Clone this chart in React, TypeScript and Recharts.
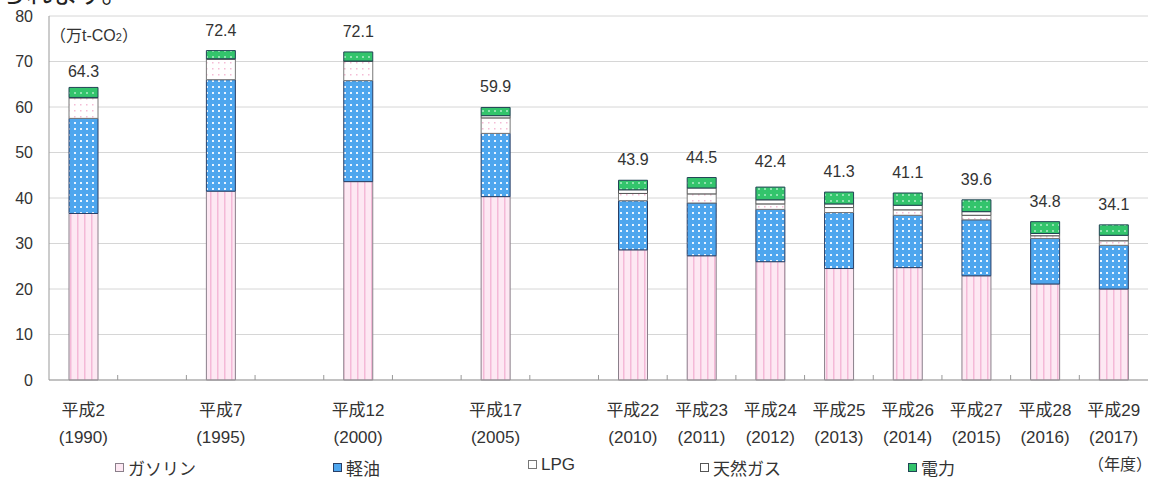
import { BarChart, Bar, XAxis, YAxis, CartesianGrid, LabelList } from 'recharts';

// 16 slots on the axis; the blank ones keep the 5-year gaps
const slots = ['1990', 'gap1', '1995', 'gap2', '2000', 'gap3', '2005', 'gap4',
  '2010', '2011', '2012', '2013', '2014', '2015', '2016', '2017'];

const years = ['1990', '1995', '2000', '2005', '2010', '2011', '2012', '2013', '2014', '2015', '2016', '2017'];
const eraLabels = ['平成2', '平成7', '平成12', '平成17', '平成22', '平成23', '平成24', '平成25', '平成26', '平成27', '平成28', '平成29'];

const gasoline = [36.6, 41.5, 43.6, 40.3, 28.6, 27.3, 26.0, 24.5, 24.7, 22.9, 21.1, 20.0];
const diesel = [20.9, 24.5, 22.2, 13.9, 10.8, 11.6, 11.5, 12.3, 11.5, 12.3, 10.0, 9.6];
const lpg = [4.5, 4.5, 4.2, 3.4, 1.6, 2.0, 1.2, 1.1, 1.2, 1.0, 0.6, 1.0];
const naturalGas = [0.1, 0.1, 0.1, 0.5, 0.8, 1.3, 0.9, 0.8, 1.0, 0.8, 0.5, 1.2];
const electricity = [2.2, 1.8, 2.0, 1.8, 2.1, 2.3, 2.8, 2.6, 2.7, 2.6, 2.6, 2.3];
const totals = [64.3, 72.4, 72.1, 59.9, 43.9, 44.5, 42.4, 41.3, 41.1, 39.6, 34.8, 34.1];

const yTicks = [0, 10, 20, 30, 40, 50, 60, 70, 80];

const rows = slots.map((slot) => {
  const i = years.indexOf(slot);
  if (i < 0) return { slot };
  return {
    slot,
    gasoline: gasoline[i],
    diesel: diesel[i],
    lpg: lpg[i],
    naturalGas: naturalGas[i],
    electricity: electricity[i],
    total: totals[i],
  };
});

const FONT = '"Liberation Sans", "Noto Sans CJK JP", sans-serif';
const TEXT = '#333';
const PLOT_LEFT = 49;
const PLOT_RIGHT = 1148;
const BAND = (PLOT_RIGHT - PLOT_LEFT) / slots.length;

const legendItems = [
  { name: 'ガソリン', fill: '#fde8f3', stroke: '#8a7f8a', left: 115 },
  { name: '軽油', fill: '#4ea6ee', stroke: '#2a3f66', left: 333 },
  { name: 'LPG', fill: '#fff', stroke: '#777', left: 528 },
  { name: '天然ガス', fill: '#fff', stroke: '#555', left: 700 },
  { name: '電力', fill: '#33c46c', stroke: '#245', left: 908 },
];

const SlotTick = (props: any) => {
  const { x, y, payload } = props;
  const i = years.indexOf(payload.value);
  const bx = x + BAND / 2;
  return (
    <g>
      {bx < PLOT_RIGHT - 1 && <line x1={bx} x2={bx} y1={y - 5} y2={y} stroke="#999" />}
      {i >= 0 && (
        <text textAnchor="middle" fill={TEXT} fontSize={17} fontFamily={FONT}>
          <tspan x={x} y={y + 36}>{eraLabels[i]}</tspan>
          <tspan x={x} y={y + 63}>({years[i]})</tspan>
        </text>
      )}
    </g>
  );
};

const TotalLabel = (props: any) => {
  const { x, y, width, value, index } = props;
  if (value == null) return null;
  const lift = index === 0 ? 10 : index === 6 ? 20 : 15;
  return (
    <text x={x + width / 2} y={y - lift} textAnchor="middle" fill={TEXT} fontSize={16} fontFamily={FONT}>
      {value}
    </text>
  );
};

const Patterns = () => (
  <defs>
    <pattern id="pGas" width="7" height="7" patternUnits="userSpaceOnUse">
      <rect width="7" height="7" fill="#fde8f3" />
      <rect x="0" width="1.5" height="7" fill="#f4b9d7" />
    </pattern>
    <pattern id="pDiesel" width="6" height="6" patternUnits="userSpaceOnUse">
      <rect width="6" height="6" fill="#4ea6ee" />
      <rect x="2" y="2" width="2" height="2" fill="#e8f4ff" />
    </pattern>
    <pattern id="pLpg" width="6" height="6" patternUnits="userSpaceOnUse">
      <rect width="6" height="6" fill="#fff" />
      <rect x="2" y="2" width="1.5" height="1.5" fill="#f5bcd6" />
    </pattern>
    <pattern id="pElec" width="6" height="6" patternUnits="userSpaceOnUse">
      <rect width="6" height="6" fill="#33c46c" />
      <rect x="2" y="2" width="2" height="2" fill="#8fe3b0" />
    </pattern>
  </defs>
);

export default function App() {
  return (
    <div style={{ position: 'absolute', left: 0, top: 0, width: 1158, height: 484, overflow: 'hidden', background: '#fff', fontFamily: FONT }}>
      <div style={{ position: 'absolute', left: 0, top: -21, fontSize: 26, lineHeight: '26px', fontFamily: '"Noto Sans CJK JP", sans-serif', color: '#222' }}>
        られます。
      </div>
      <BarChart
        width={1158}
        height={484}
        data={rows}
        margin={{ top: 16, right: 10, left: 0, bottom: 44 }}
        barSize={29}
      >
        <Patterns />
        <CartesianGrid vertical={false} stroke="#d6d6d6" />
        <XAxis
          dataKey="slot"
          interval={0}
          height={60}
          tickLine={false}
          tickSize={0}
          tickMargin={0}
          axisLine={{ stroke: '#999' }}
          tick={<SlotTick />}
        />
        <YAxis
          width={49}
          domain={[0, 80]}
          ticks={yTicks}
          tickLine={false}
          tickSize={0}
          tickMargin={16}
          axisLine={{ stroke: '#999' }}
          tick={{ fill: TEXT, fontSize: 16, fontFamily: FONT }}
        />
        <Bar dataKey="gasoline" stackId="a" fill="url(#pGas)" stroke="#8a7f8a" isAnimationActive={false} />
        <Bar dataKey="diesel" stackId="a" fill="url(#pDiesel)" stroke="#2a3f66" isAnimationActive={false} />
        <Bar dataKey="lpg" stackId="a" fill="url(#pLpg)" stroke="#777" isAnimationActive={false} />
        <Bar dataKey="naturalGas" stackId="a" fill="#fff" stroke="#555" isAnimationActive={false} />
        <Bar dataKey="electricity" stackId="a" fill="url(#pElec)" stroke="#245" isAnimationActive={false}>
          <LabelList dataKey="total" content={<TotalLabel />} />
        </Bar>
      </BarChart>
      <div style={{ position: 'absolute', left: 50, top: 22, fontSize: 16, color: TEXT }}>
        （万t-CO<span style={{ fontSize: 11 }}>2</span>）
      </div>
      {legendItems.map((it) => (
        <div key={it.name} style={{ position: 'absolute', left: it.left, top: 455, fontSize: 17, color: TEXT, display: 'flex', alignItems: 'center' }}>
          <svg width={11} height={10} style={{ marginRight: 2 }}>
            <rect x={0.5} y={0.5} width={8} height={8} fill={it.fill} stroke={it.stroke} />
          </svg>
          {it.name}
        </div>
      ))}
      <div style={{ position: 'absolute', left: 1088, top: 451, fontSize: 16, color: TEXT }}>（年度）</div>
    </div>
  );
}
